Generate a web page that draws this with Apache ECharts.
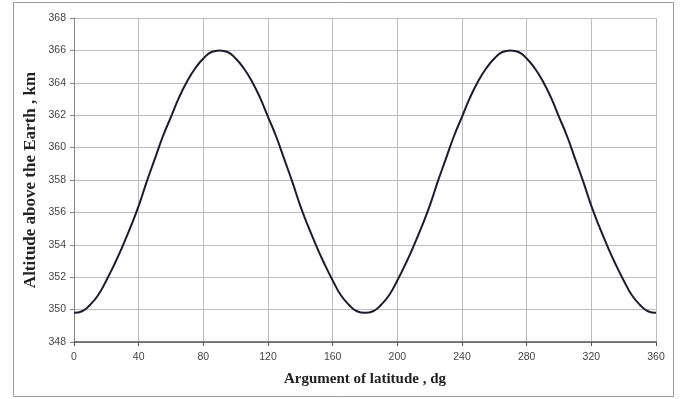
<!DOCTYPE html>
<html>
<head>
<meta charset="utf-8">
<script src="https://cdn.jsdelivr.net/npm/echarts@6/dist/echarts.min.js"></script>
<style>
  html, body { margin: 0; padding: 0; background: #fff; }
  #myChart { width: 682px; height: 399px; }
</style>
</head>
<body>
<div id="myChart"></div>
<script>
// argument of latitude, dg (every 5 dg)
var latArr = [];
for (var d = 0; d <= 360; d += 5) latArr.push(d);
// altitude above the Earth, km (0..360 by 5)
var altArr = [
  349.8, 349.9, 350.3, 350.9, 351.8, 352.8, 353.9, 355.1, 356.4, 357.9, 359.3, 360.7,
  361.9, 363.1, 364.1, 364.9, 365.5, 365.9, 366.0, 365.9, 365.5, 364.9, 364.1, 363.1,
  361.9, 360.7, 359.3, 357.9, 356.4, 355.1, 353.9, 352.8, 351.8, 350.9, 350.3, 349.9,
  349.8, 349.9, 350.3, 350.9, 351.8, 352.8, 353.9, 355.1, 356.4, 357.9, 359.3, 360.7,
  361.9, 363.1, 364.1, 364.9, 365.5, 365.9, 366.0, 365.9, 365.5, 364.9, 364.1, 363.1,
  361.9, 360.7, 359.3, 357.9, 356.4, 355.1, 353.9, 352.8, 351.8, 350.9, 350.3, 349.9,
  349.8
];

var xName = "Argument of latitude , dg";
var yName = "Altitude above the Earth , km";

var dataList = [];
for (var i = 0; i < latArr.length; i++) {
  dataList.push([latArr[i], altArr[i]]);
}

var myChart = echarts.init(document.getElementById("myChart"));
var option = {
  animation: false,
  backgroundColor: "#fff",
  graphic: [
    {
      type: "rect",
      shape: { x: 13.5, y: 2.5, width: 660, height: 394 },
      style: { fill: "none", stroke: "#9a9a9a", lineWidth: 1 }
    }
  ],
  grid: { left: 74, right: 26, top: 18, bottom: 57 },
  xAxis: {
    type: "value",
    min: 0,
    max: 360,
    interval: 40,
    name: xName,
    nameLocation: "middle",
    nameGap: 30,
    nameTextStyle: { fontFamily: "Liberation Serif", fontWeight: "bold", fontSize: 15, color: "#222" },
    axisLine: { show: true, lineStyle: { color: "#555", width: 1.5 } },
    axisTick: { show: true, length: 4, lineStyle: { color: "#555" } },
    axisLabel: { fontFamily: "Liberation Sans", fontSize: 10.5, color: "#444", margin: 10 },
    splitLine: { show: true, lineStyle: { color: "#bdbdbd", width: 1 } }
  },
  yAxis: {
    type: "value",
    min: 348,
    max: 368,
    interval: 2,
    name: yName,
    nameLocation: "middle",
    nameGap: 35,
    nameMoveOverlap: false,
    nameTextStyle: { fontFamily: "Liberation Serif", fontWeight: "bold", fontSize: 17, color: "#222" },
    axisLine: { show: true, lineStyle: { color: "#888", width: 1 } },
    axisTick: { show: true, length: 4, lineStyle: { color: "#888" } },
    axisLabel: { fontFamily: "Liberation Sans", fontSize: 10.5, color: "#444", margin: 8 },
    splitLine: { show: true, lineStyle: { color: "#bdbdbd", width: 1 } }
  },
  series: [
    {
      type: "line",
      data: dataList,
      smooth: true,
      showSymbol: false,
      lineStyle: { color: "#1c1c30", width: 2 }
    }
  ]
};
myChart.setOption(option);
</script>
</body>
</html>
